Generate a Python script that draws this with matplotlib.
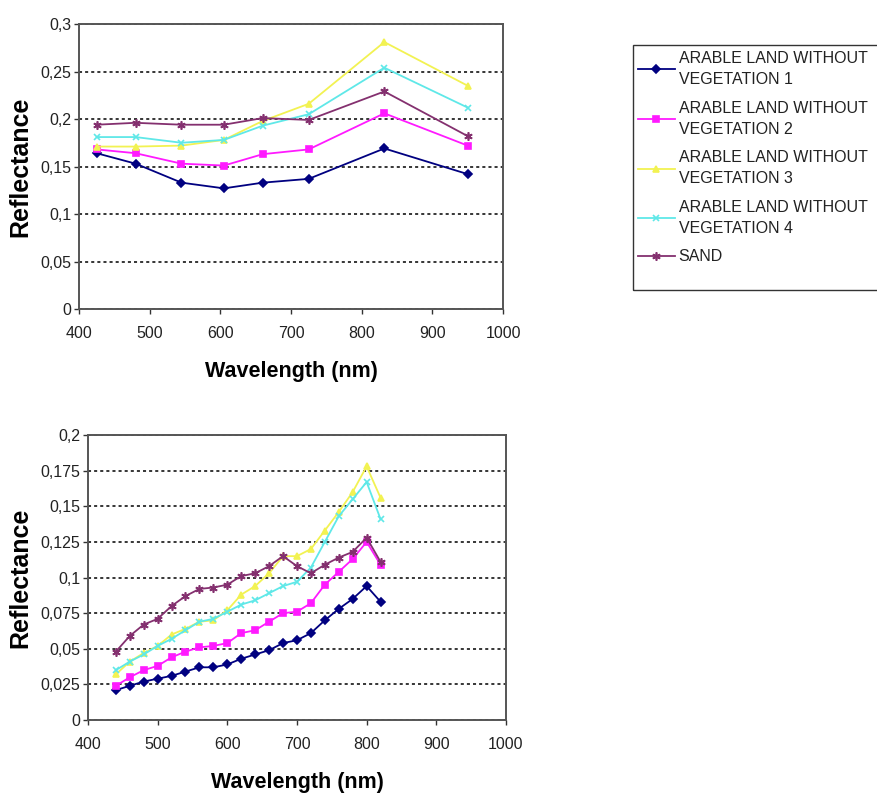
import matplotlib
matplotlib.use("Agg")
import matplotlib.pyplot as plt
from matplotlib.patches import Rectangle
from matplotlib.ticker import FuncFormatter, MultipleLocator

plt.rcParams["font.family"] = ["Liberation Sans", "DejaVu Sans"]

# top chart: band centres (nm)
wl_top = [425, 480, 545, 605, 660, 725, 832, 950]
top_land1 = [0.164, 0.153, 0.133, 0.127, 0.133, 0.137, 0.169, 0.142]
top_land2 = [0.168, 0.164, 0.153, 0.151, 0.163, 0.168, 0.206, 0.172]
top_land3 = [0.171, 0.171, 0.172, 0.178, 0.198, 0.216, 0.281, 0.235]
top_land4 = [0.181, 0.181, 0.175, 0.178, 0.193, 0.205, 0.254, 0.212]
top_sand = [0.194, 0.196, 0.194, 0.194, 0.201, 0.199, 0.229, 0.182]

# bottom chart: 20 nm steps
wl_bot = [440, 460, 480, 500, 520, 540, 560, 580, 600, 620,
          640, 660, 680, 700, 720, 740, 760, 780, 800, 820]
bot_land1 = [0.021, 0.024, 0.027, 0.029, 0.031, 0.034, 0.037, 0.037, 0.039, 0.043,
             0.046, 0.049, 0.054, 0.056, 0.061, 0.070, 0.078, 0.085, 0.094, 0.083]
bot_land2 = [0.024, 0.030, 0.035, 0.038, 0.044, 0.048, 0.051, 0.052, 0.054, 0.061,
             0.063, 0.069, 0.075, 0.076, 0.082, 0.095, 0.104, 0.113, 0.125, 0.109]
bot_land3 = [0.032, 0.041, 0.047, 0.052, 0.060, 0.064, 0.069, 0.070, 0.077, 0.088,
             0.094, 0.103, 0.115, 0.115, 0.120, 0.133, 0.146, 0.160, 0.178, 0.156]
bot_land4 = [0.035, 0.041, 0.046, 0.052, 0.057, 0.063, 0.069, 0.071, 0.076, 0.081,
             0.084, 0.089, 0.094, 0.097, 0.107, 0.125, 0.143, 0.155, 0.167, 0.141]
bot_sand = [0.048, 0.059, 0.067, 0.071, 0.080, 0.087, 0.092, 0.093, 0.095, 0.101,
            0.103, 0.108, 0.115, 0.108, 0.103, 0.109, 0.114, 0.118, 0.128, 0.111]

labels = ["ARABLE LAND WITHOUT\nVEGETATION 1",
          "ARABLE LAND WITHOUT\nVEGETATION 2",
          "ARABLE LAND WITHOUT\nVEGETATION 3",
          "ARABLE LAND WITHOUT\nVEGETATION 4",
          "SAND"]
colors = ["#000080", "#ff1aff", "#f2f252", "#5fe8e8", "#84306f"]
markers = ["D", "s", "^", "x", (6, 2, 0)]
msizes = [4, 5, 5, 5, 6]


def comma_fmt(v, pos):
    s = f"{v:.3f}".rstrip("0").rstrip(".")
    return s.replace(".", ",")


def style_axes(ax, ymax, ystep):
    ax.set_xlim(400, 1000)
    ax.set_ylim(0, ymax)
    ax.xaxis.set_major_locator(MultipleLocator(100))
    ax.yaxis.set_major_locator(MultipleLocator(ystep))
    ax.yaxis.set_major_formatter(FuncFormatter(comma_fmt))
    ax.grid(axis="y", color="black", linestyle=(0, (2, 2)), linewidth=1.1)
    ax.set_axisbelow(True)
    for sp in ax.spines.values():
        sp.set_color("#555555")
        sp.set_linewidth(1.4)
    ax.tick_params(direction="out", length=3.5, width=1, colors="#333333",
                   labelsize=11.5, labelcolor="#222222")
    ax.tick_params(axis="y", pad=2)
    ax.tick_params(axis="x", pad=9)
    ax.set_xlabel("Wavelength (nm)", fontsize=15.5, fontweight="bold", labelpad=14)
    ax.set_ylabel("Reflectance", fontsize=18, fontweight="bold", labelpad=6)


fig = plt.figure(figsize=(8.77, 7.95), dpi=100)

ax1 = fig.add_axes([0.0901, 0.6113, 0.4835, 0.3585])
tops = [top_land1, top_land2, top_land3, top_land4, top_sand]
for vals, c, m, ms, lab in zip(tops, colors, markers, msizes, labels):
    ax1.plot(wl_top, vals, color=c, marker=m, markersize=ms, linewidth=1.3,
             markeredgewidth=1.2, label=lab)
style_axes(ax1, 0.3, 0.05)

ax2 = fig.add_axes([0.1003, 0.0943, 0.4766, 0.3585])
bots = [bot_land1, bot_land2, bot_land3, bot_land4, bot_sand]
for vals, c, m, ms in zip(bots, colors, markers, msizes):
    ax2.plot(wl_bot, vals, color=c, marker=m, markersize=ms, linewidth=1.3,
             markeredgewidth=1.2)
style_axes(ax2, 0.2, 0.025)

# legend box runs off the right edge in the original
W, H = 877, 795
fig.patches.append(Rectangle((633 / W, 1 - 290 / H), 300 / W, 245 / H,
                             transform=fig.transFigure, fill=False,
                             edgecolor="#333333", linewidth=1.0))

handles, labs = ax1.get_legend_handles_labels()
leg = fig.legend(handles, labs, loc="upper left",
                 bbox_to_anchor=(638 / W, 1 - 51 / H),
                 borderaxespad=0, borderpad=0, fontsize=11.5, frameon=False,
                 handlelength=2.3, handletextpad=0.25, labelspacing=0.85)
for t in leg.get_texts():
    t.set_linespacing(1.5)
    t.set_color("#222222")

fig.savefig("out.png", dpi=100)
